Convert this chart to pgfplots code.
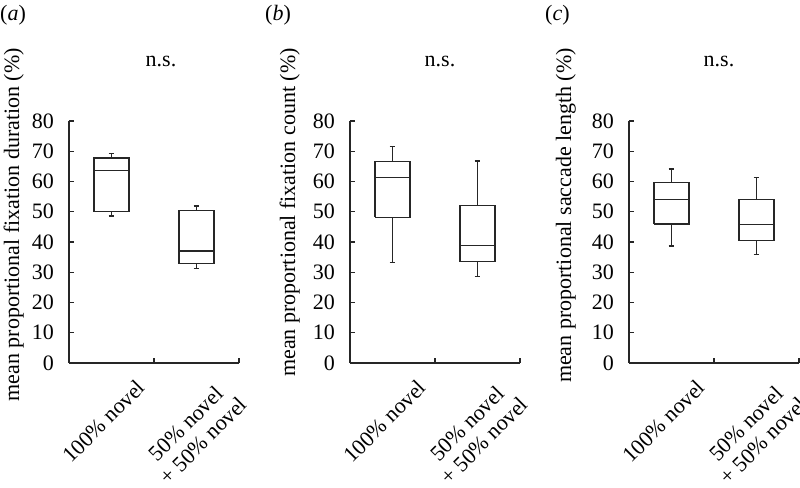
\documentclass[border=0pt]{standalone}
\usepackage{pgfplots}
\pgfplotsset{compat=1.18}
\usepackage{fontspec}
\setmainfont{Liberation Serif}
\newcommand{\fs}{\fontsize{22}{24}\selectfont}
\pgfplotsset{
  myaxis/.style={
    scale only axis, width=170pt, height=242pt,
    anchor=south west,
    xmin=0.5, xmax=2.5, ymin=0, ymax=80,
    axis x line*=bottom, axis y line*=left,
    axis line style={-, line width=1.3pt, black!85},
    major tick length=5pt,
    tick style={line width=1.3pt, black!85},
    tick align=inside,
    ytick={0,10,...,80},
    xtick={1.5,2.5}, xticklabels={},
    extra x ticks={1,2},
    extra x tick labels={100\% novel, {50\% novel\\+ 50\% novel}},
    extra x tick style={major tick length=0pt},
    xticklabel style={xshift=24pt, yshift=-15pt, rotate=45, anchor=north east, inner sep=0pt, align=center, font=\fs},
    yticklabel style={inner sep=0pt, xshift=-15pt, font=\fs},
    /pgf/number format/assume math mode=true,
    clip=false,
    unbounded coords=jump,
  },
  bx/.style={black!85, line width=1.3pt, solid, mark=none},
}
\begin{document}
\begin{tikzpicture}
\useasboundingbox (0pt,0pt) rectangle (800pt,487pt);
% panel (a): whisker-low, Q1, median, Q3, whisker-high
% box 1: 48.6, 50.0, 63.6, 67.8, 69.3 ; box 2: 31.2, 32.8, 37.0, 50.5, 51.9
\begin{axis}[myaxis, at={(69pt,124pt)}]
\addplot[bx] coordinates {(0.795,50.0)(1.205,50.0)(1.205,67.8)(0.795,67.8)(0.795,50.0) (nan,nan) (0.795,63.6)(1.205,63.6) (nan,nan) (1,67.8)(1,69.3) (nan,nan) (0.965,69.3)(1.035,69.3) (nan,nan) (1,50.0)(1,48.6) (nan,nan) (0.965,48.6)(1.035,48.6)};
\addplot[bx] coordinates {(1.795,32.8)(2.205,32.8)(2.205,50.5)(1.795,50.5)(1.795,32.8) (nan,nan) (1.795,37.0)(2.205,37.0) (nan,nan) (2,50.5)(2,51.9) (nan,nan) (1.965,51.9)(2.035,51.9) (nan,nan) (2,32.8)(2,31.2) (nan,nan) (1.965,31.2)(2.035,31.2)};
\end{axis}
% panel (b)
% box 1: 33.3, 48.1, 61.3, 66.5, 71.5 ; box 2: 28.6, 33.5, 38.9, 52.1, 66.8
\begin{axis}[myaxis, at={(350pt,124pt)}]
\addplot[bx] coordinates {(0.795,48.1)(1.205,48.1)(1.205,66.5)(0.795,66.5)(0.795,48.1) (nan,nan) (0.795,61.3)(1.205,61.3) (nan,nan) (1,66.5)(1,71.5) (nan,nan) (0.965,71.5)(1.035,71.5) (nan,nan) (1,48.1)(1,33.3) (nan,nan) (0.965,33.3)(1.035,33.3)};
\addplot[bx] coordinates {(1.795,33.5)(2.205,33.5)(2.205,52.1)(1.795,52.1)(1.795,33.5) (nan,nan) (1.795,38.9)(2.205,38.9) (nan,nan) (2,52.1)(2,66.8) (nan,nan) (1.965,66.8)(2.035,66.8) (nan,nan) (2,33.5)(2,28.6) (nan,nan) (1.965,28.6)(2.035,28.6)};
\end{axis}
% panel (c)
% box 1: 38.7, 46.0, 54.1, 59.6, 64.1 ; box 2: 35.8, 40.4, 45.9, 54.1, 61.3
\begin{axis}[myaxis, at={(629pt,124pt)}]
\addplot[bx] coordinates {(0.795,46.0)(1.205,46.0)(1.205,59.6)(0.795,59.6)(0.795,46.0) (nan,nan) (0.795,54.1)(1.205,54.1) (nan,nan) (1,59.6)(1,64.1) (nan,nan) (0.965,64.1)(1.035,64.1) (nan,nan) (1,46.0)(1,38.7) (nan,nan) (0.965,38.7)(1.035,38.7)};
\addplot[bx] coordinates {(1.795,40.4)(2.205,40.4)(2.205,54.1)(1.795,54.1)(1.795,40.4) (nan,nan) (1.795,45.9)(2.205,45.9) (nan,nan) (2,54.1)(2,61.3) (nan,nan) (1.965,61.3)(2.035,61.3) (nan,nan) (2,40.4)(2,35.8) (nan,nan) (1.965,35.8)(2.035,35.8)};
\end{axis}
% y labels
\node[rotate=90, anchor=base east, inner sep=0pt, font=\fs] at (19pt,439pt) {mean proportional fixation duration (\%)};
\node[rotate=90, anchor=base east, inner sep=0pt, font=\fs] at (295pt,439pt) {mean proportional fixation count (\%)};
\node[rotate=90, anchor=base east, inner sep=0pt, font=\fs] at (571pt,439pt) {mean proportional saccade length (\%)};
% panel letters
\node[anchor=north west, inner sep=0pt, font=\fs] at (0pt,482pt) {(\textit{a})};
\node[anchor=north west, inner sep=0pt, font=\fs] at (265pt,482pt) {(\textit{b})};
\node[anchor=north west, inner sep=0pt, font=\fs] at (545pt,482pt) {(\textit{c})};
% n.s.
\node[font=\fs] at (161pt,426pt) {n.s.};
\node[font=\fs] at (440pt,426pt) {n.s.};
\node[font=\fs] at (719pt,426pt) {n.s.};
\end{tikzpicture}
\end{document}
